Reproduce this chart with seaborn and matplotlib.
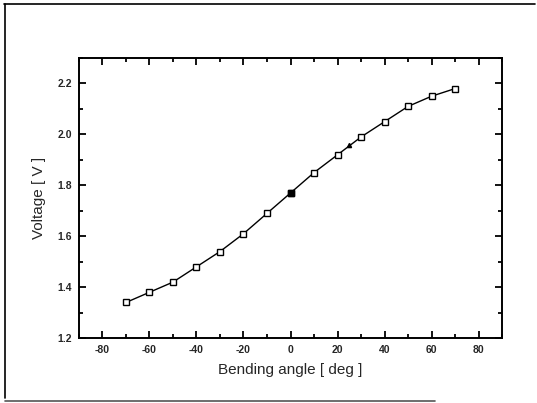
import matplotlib
matplotlib.use("Agg")
import matplotlib.pyplot as plt
import seaborn as sns
import pandas as pd
from matplotlib.ticker import MultipleLocator
from matplotlib.lines import Line2D

angles = [-70, -60, -50, -40, -30, -20, -10, 0, 10, 20, 30, 40, 50, 60, 70]
voltages = [1.34, 1.38, 1.42, 1.48, 1.54, 1.61, 1.69, 1.77, 1.85, 1.92, 1.99, 2.05, 2.11, 2.15, 2.18]
filled_angles = [0, 25]
filled_voltages = [1.77, 1.96]
xticks = [-80, -60, -40, -20, 0, 20, 40, 60, 80]
yticks = [1.2, 1.4, 1.6, 1.8, 2.0, 2.2]

sns.set_theme(style="ticks")
plt.rcParams['font.family'] = ['Liberation Sans', 'DejaVu Sans']

df = pd.DataFrame({"angle": angles, "voltage": voltages})

W, H = 537, 403
fig = plt.figure(figsize=(W / 100, H / 100), dpi=100)
ax = fig.add_axes([0.147, 0.161, 0.788, 0.695])

sns.lineplot(data=df, x="angle", y="voltage", ax=ax, color="black", linewidth=1.0,
             marker="s", markersize=5, markerfacecolor="white", markeredgecolor="black",
             markeredgewidth=1.0)
ax.plot(filled_angles[:1], filled_voltages[:1], "s", color="black", markersize=5, zorder=5)
ax.plot(filled_angles[1:], filled_voltages[1:], "^", color="black", markersize=3, zorder=5)

ax.set_xlim(-90, 90)
ax.set_ylim(1.2, 2.3)
ax.set_xticks(xticks)
ax.set_yticks(yticks)
ax.set_xticklabels([str(t) for t in xticks])
ax.set_yticklabels([f"{t:.1f}" for t in yticks])
ax.xaxis.set_minor_locator(MultipleLocator(10))
ax.yaxis.set_minor_locator(MultipleLocator(0.1))
ax.tick_params(which="both", direction="in", top=True, right=True, color="black", width=1.3)
ax.tick_params(which="major", length=5, labelsize=7.5, pad=5)
ax.tick_params(which="minor", length=3)
for lab in ax.get_xticklabels() + ax.get_yticklabels():
    lab.set_fontweight("bold")
for s in ax.spines.values():
    s.set_color("black")
    s.set_linewidth(1.4)
ax.set_xlabel("Bending angle [ deg ]", fontsize=11, labelpad=6)
ax.set_ylabel("Voltage [ V ]", fontsize=11, labelpad=8)

def fx(px):
    return px / W

def fy(py):
    return 1 - py / H

fig.lines.append(Line2D([fx(4), fx(535)], [fy(4), fy(4)], transform=fig.transFigure,
                        color="black", linewidth=1.2))
fig.lines.append(Line2D([fx(5), fx(5)], [fy(4), fy(398)], transform=fig.transFigure,
                        color="black", linewidth=1.2))
fig.lines.append(Line2D([fx(5), fx(435)], [fy(401), fy(401)], transform=fig.transFigure,
                        color="#555555", linewidth=1.2))

fig.savefig("out.png", dpi=100)
